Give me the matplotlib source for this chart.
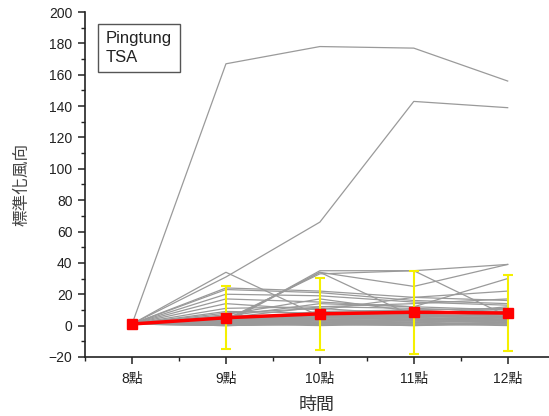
import numpy as np
import matplotlib.pyplot as plt
from matplotlib.ticker import MultipleLocator

plt.rcParams['font.family'] = ['Liberation Sans', 'Noto Sans CJK TC']

hours = ['8點', '9點', '10點', '11點', '12點']

# individual stations (standardised wind direction)
stations = [
    [1, 167, 178, 177, 156],
    [1, 31, 66, 143, 139],
    [1, 34, 6, 4, 3],
    [1, 2, 35, 35, 39],
    [1, 3, 34, 25, 39],
    [1, 2, 34, 6, 5],
    [1, 4, 33, 35, 6],
    [1, 24, 22, 18, 16],
    [1, 23, 21, 16, 14],
    [1, 20, 19, 15, 13],
    [1, 17, 15, 12, 30],
    [1, 14, 10, 18, 22],
    [1, 11, 12, 14, 17],
    [1, 7, 17, 9, 8],
    [1, 9, 8, 10, 11],
    [1, 6, 14, 12, 10],
    [1, 5, 12, 11, 9],
    [1, 8, 11, 7, 12],
    [1, 4, 9, 10, 7],
    [1, 6, 7, 8, 9],
    [1, 3, 8, 6, 7],
    [1, 5, 6, 7, 6],
    [1, 2, 7, 5, 8],
    [1, 4, 5, 6, 5],
    [1, 3, 5, 4, 6],
    [1, 2, 4, 5, 4],
    [1, 3, 4, 3, 5],
    [1, 2, 3, 4, 3],
    [1, 1, 3, 2, 4],
    [1, 2, 2, 3, 2],
    [1, 1, 2, 2, 3],
    [1, 0, 1, 2, 1],
    [1, 1, 1, 1, 2],
    [1, 0, 2, 1, 1],
    [1, 2, 1, 0, 2],
    [1, 1, 0, 1, 0],
    [1, 0, 1, 0, 1],
    [1, 3, 6, 5, 4],
    [1, 4, 7, 6, 5],
    [1, 2, 5, 6, 7],
    [1, 1, 4, 3, 2],
    [1, 3, 2, 4, 3],
    [1, 2, 6, 7, 6],
    [1, 5, 3, 2, 4],
    [1, 1, 5, 4, 3],
]

# mean and standard deviation over all stations
mean_vals = [1, 5, 7.5, 8.5, 8]
std_vals = [0, 20, 23, 26.5, 24.5]

x = np.arange(len(hours))

fig = plt.figure(figsize=(5.49, 4.16), dpi=100)
ax = fig.add_axes([0.155, 0.142, 0.845, 0.829])

for s in stations:
    ax.plot(x, s, color='#9a9a9a', lw=0.9, zorder=1)

ax.errorbar(x[1:], mean_vals[1:], yerr=std_vals[1:], fmt='none',
            ecolor='#f5f000', elinewidth=1.5, capsize=3.5, capthick=1.5,
            zorder=2)
ax.plot(x, mean_vals, color='#ff0000', lw=2.5, marker='s', ms=7.5,
        zorder=3)

ax.set_xlim(-0.5, 4.44)
ax.set_ylim(-20, 200)
ax.set_xticks(x)
ax.set_xticklabels(hours)
ax.xaxis.set_minor_locator(MultipleLocator(0.5))
ax.yaxis.set_major_locator(MultipleLocator(20))
ax.yaxis.set_minor_locator(MultipleLocator(10))

for side in ['top', 'right']:
    ax.spines[side].set_visible(False)
for side in ['left', 'bottom']:
    ax.spines[side].set_linewidth(1.2)
    ax.spines[side].set_color('#222222')

ax.tick_params(which='major', direction='out', length=5, width=1.1,
               labelsize=10, colors='#222222', pad=4)
ax.tick_params(which='minor', direction='out', length=3, width=1.0,
               colors='#222222')
ax.tick_params(axis='x', which='major', pad=6)

ax.set_xlabel('時間', fontsize=13, color='#333333', labelpad=8)
ax.set_ylabel('標準化風向', fontsize=12, color='#444444', labelpad=14)

ax.text(0.045, 0.945, 'Pingtung\nTSA', transform=ax.transAxes,
        fontsize=12, color='#222222', va='top', ha='left',
        linespacing=1.3,
        bbox=dict(boxstyle='square,pad=0.45', fc='white', ec='#555555',
                  lw=1.0))

fig.savefig('out.png', dpi=100)
